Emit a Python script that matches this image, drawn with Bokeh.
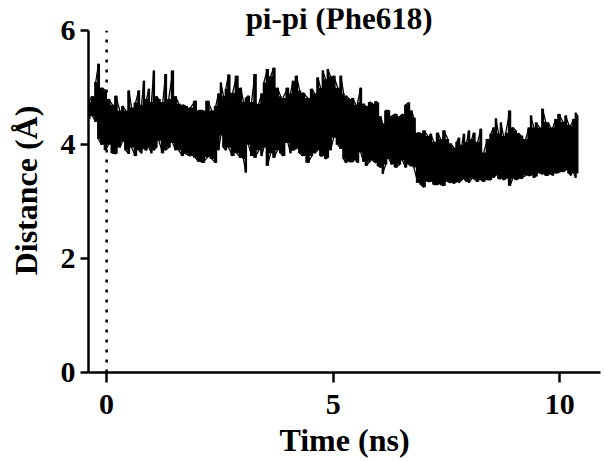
from bokeh.plotting import figure
from bokeh.models import FixedTicker, Label
from bokeh.embed import file_html
from bokeh.resources import INLINE

# ---- data ----
time_ns = [-0.40, -0.31, -0.24, -0.18, -0.11, -0.02, 0.04, 0.13, 0.20, 0.29, 0.35, 0.42, 0.49, 0.55,
           0.64, 0.71, 0.77, 0.82, 0.88, 0.93, 0.99, 1.04, 1.10, 1.15, 1.24, 1.30, 1.37, 1.46, 1.52,
           1.59, 1.68, 1.74, 1.85, 1.96, 2.03, 2.12, 2.23, 2.32, 2.41, 2.47, 2.52, 2.58, 2.63, 2.69,
           2.78, 2.87, 2.96, 3.02, 3.07, 3.13, 3.20, 3.27, 3.36, 3.42, 3.47, 3.55, 3.62, 3.69, 3.77,
           3.84, 3.89, 4.00, 4.06, 4.11, 4.19, 4.26, 4.33, 4.44, 4.53, 4.59, 4.66, 4.72, 4.77, 4.83,
           4.88, 4.94, 5.01, 5.10, 5.17, 5.23, 5.28, 5.36, 5.43, 5.50, 5.54, 5.61, 5.67, 5.72, 5.81,
           5.87, 5.94, 5.98, 6.05, 6.09, 6.16, 6.23, 6.29, 6.38, 6.47, 6.53, 6.60, 6.67, 6.73, 6.78,
           6.87, 6.93, 7.00, 7.09, 7.15, 7.22, 7.31, 7.37, 7.44, 7.53, 7.59, 7.66, 7.73, 7.77, 7.84,
           7.88, 7.95, 7.99, 8.06, 8.10, 8.19, 8.26, 8.32, 8.41, 8.48, 8.54, 8.59, 8.65, 8.70, 8.76,
           8.81, 8.90, 8.96, 9.03, 9.09, 9.14, 9.25, 9.32, 9.36, 9.43, 9.47, 9.56, 9.62, 9.69, 9.74,
           9.80, 9.85, 9.91, 9.98, 10.07, 10.13, 10.20, 10.24, 10.31, 10.35, 10.40]

dist_high = [4.75, 4.85, 5.10, 5.42, 5.00, 4.95, 4.80, 4.70, 4.86, 4.60, 4.68, 4.60, 4.95, 4.65,
             4.74, 4.95, 4.70, 5.12, 4.80, 4.98, 4.75, 5.30, 4.85, 4.80, 4.75, 5.24, 4.80, 5.30, 4.85,
             4.72, 4.70, 4.68, 4.65, 4.77, 4.60, 4.60, 4.77, 4.60, 4.68, 4.90, 5.09, 4.85, 4.98, 5.23,
             4.91, 5.21, 5.00, 4.75, 4.82, 4.86, 4.75, 5.24, 4.72, 4.90, 5.09, 5.33, 5.20, 5.35, 5.00,
             4.85, 4.82, 5.00, 4.90, 5.12, 5.21, 4.95, 4.91, 4.82, 4.98, 4.90, 5.18, 5.00, 5.30, 5.15,
             5.33, 5.20, 5.21, 5.00, 5.21, 4.90, 4.86, 4.80, 4.82, 4.70, 4.74, 5.00, 4.72, 4.68, 4.75,
             4.72, 4.76, 4.74, 4.50, 4.37, 4.60, 4.60, 4.50, 4.54, 4.50, 4.54, 4.70, 4.74, 4.60, 4.47,
             4.21, 4.20, 4.25, 4.15, 4.19, 4.05, 4.21, 4.10, 4.25, 4.10, 4.02, 3.95, 4.05, 4.12, 4.00,
             4.19, 4.05, 4.25, 4.10, 4.21, 4.05, 4.28, 3.86, 4.10, 4.19, 4.30, 4.46, 4.20, 4.39, 4.15,
             4.21, 4.60, 4.30, 4.25, 4.20, 4.16, 4.10, 4.30, 4.51, 4.30, 4.39, 4.30, 4.63, 4.40, 4.39,
             4.30, 4.30, 4.45, 4.54, 4.40, 4.51, 4.35, 4.33, 4.45, 4.56, 4.50]

dist_low = [4.45, 4.50, 4.40, 4.10, 4.00, 3.90, 4.00, 3.85, 3.84, 3.95, 4.05, 3.90, 3.84, 3.95,
            3.80, 3.90, 3.85, 3.93, 3.90, 3.95, 3.85, 3.90, 3.95, 4.07, 3.85, 3.90, 3.95, 4.03, 3.90,
            3.90, 3.80, 3.84, 3.80, 3.77, 3.70, 3.68, 3.78, 3.75, 3.68, 3.90, 4.16, 3.95, 3.90, 3.95,
            3.80, 3.85, 3.77, 3.75, 3.51, 4.00, 3.80, 3.77, 3.90, 3.80, 3.95, 3.63, 3.85, 3.77, 3.90,
            3.85, 3.80, 4.03, 3.85, 3.90, 3.93, 3.85, 3.80, 3.68, 3.80, 3.85, 3.90, 3.80, 3.80, 3.75,
            3.77, 3.90, 4.12, 4.00, 3.93, 3.75, 3.68, 3.70, 3.70, 3.72, 3.68, 3.86, 3.70, 3.63, 3.70,
            3.72, 3.68, 3.63, 3.60, 3.49, 3.65, 3.75, 3.65, 3.60, 3.65, 3.72, 3.60, 3.65, 3.62, 3.60,
            3.33, 3.30, 3.25, 3.35, 3.35, 3.30, 3.30, 3.30, 3.28, 3.35, 3.33, 3.32, 3.35, 3.33, 3.38,
            3.40, 3.35, 3.33, 3.40, 3.40, 3.35, 3.38, 3.35, 3.38, 3.38, 3.42, 3.46, 3.40, 3.40, 3.38,
            3.40, 3.28, 3.40, 3.38, 3.40, 3.40, 3.46, 3.45, 3.46, 3.42, 3.44, 3.50, 3.48, 3.46, 3.46,
            3.48, 3.46, 3.50, 3.51, 3.52, 3.55, 3.50, 3.46, 3.50, 3.42, 3.50]

x_ticks = [0, 5, 10]
y_ticks = [0, 2, 4, 6]
marker_time = 0
title_text = "pi-pi (Phe618)"

# zig-zag trace through the envelope samples (vertical strokes)
zx, zy = [], []
for i, t in enumerate(time_ns):
    if i % 2 == 0:
        zx += [t, t]
        zy += [dist_low[i], dist_high[i]]
    else:
        zx += [t, t]
        zy += [dist_high[i], dist_low[i]]

FONT = "Liberation Serif"

p = figure(width=604, height=461, x_range=(-0.4, 10.9), y_range=(0, 6.39),
           output_backend="svg", toolbar_location=None,
           min_border_left=88, min_border_right=4, min_border_top=8, min_border_bottom=89)
p.outline_line_color = None
p.grid.visible = False
p.background_fill_color = "white"

# dotted reference line at t = 0
p.segment(x0=[marker_time], y0=[y_ticks[0]], x1=[marker_time], y1=[y_ticks[-1]],
          line_color="black", line_width=2.5, line_dash="3 7")

p.varea_step(x=time_ns, y1=dist_low, y2=dist_high, step_mode="center", fill_color="black")
p.line(zx, zy, line_color="black", line_width=1.3)

for ax in (p.xaxis, p.yaxis):
    ax.axis_line_width = 2.5
    ax.axis_line_color = "black"
    ax.major_tick_line_width = 2.5
    ax.major_tick_line_color = "black"
    ax.minor_tick_line_color = None
    ax.major_tick_in = 0
    ax.major_label_text_font = FONT
    ax.major_label_text_font_style = "bold"
    ax.major_label_text_font_size = "30px"
    ax.major_label_text_color = "black"
    ax.axis_label_text_font = FONT
    ax.axis_label_text_font_style = "bold"
    ax.axis_label_text_font_size = "32px"
    ax.axis_label_text_color = "black"

p.xaxis.ticker = FixedTicker(ticks=x_ticks)
p.yaxis.ticker = FixedTicker(ticks=y_ticks)
p.yaxis.bounds = (y_ticks[0], y_ticks[-1])
p.xaxis.major_tick_out = 10
p.yaxis.major_tick_out = 8
p.xaxis.major_label_standoff = 12
p.yaxis.major_label_standoff = 5
p.xaxis.axis_label = "Time (ns)"
p.yaxis.axis_label = "Distance (Å)"
p.xaxis.axis_label_standoff = 5
p.yaxis.axis_label_standoff = 14

title = Label(x=5.13, y=y_ticks[-1], text=title_text, text_align="center",
              text_baseline="alphabetic", y_offset=12,
              text_font=FONT, text_font_style="bold", text_font_size="31px",
              text_color="black")
p.add_layout(title)

open("out.html", "w").write(file_html(p, INLINE))
